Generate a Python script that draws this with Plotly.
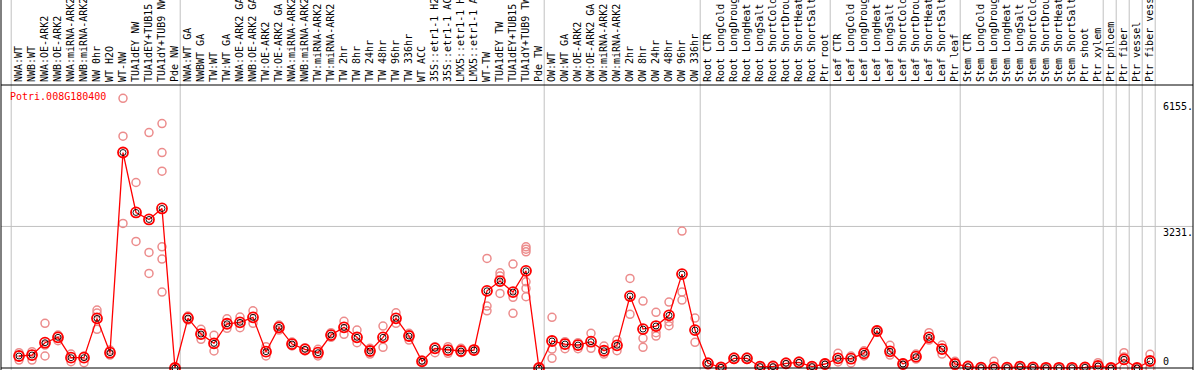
import plotly.graph_objects as go

categories = [
    "NWA:WT", "NWB:WT", "NWA:OE-ARK2", "NWB:OE-ARK2", "NWA:miRNA-ARK2", "NWB:miRNA-ARK2",
    "NW 0hr", "WT H2O", "WT-NW", "TUA1dEY NW", "TUA1dEY+TUB15 NW", "TUA1dY+TUB9 NW", "Pde NW",
    "NWA:WT GA", "NWBWT GA", "TW:WT", "TW:WT GA", "NWA:OE-ARK2 GA", "NWB:OE-ARK2 GA",
    "TW:OE-ARK2", "TW:OE-ARK2 GA", "NWA:miRNA-ARK2 GA", "NWB:miRNA-ARK2 GA", "TW:miRNA-ARK2",
    "TW:miRNA-ARK2 GA", "TW 2hr", "TW 8hr", "TW 24hr", "TW 48hr", "TW 96hr", "TW 336hr",
    "WT ACC", "35S::etr1-1 H2O", "35S::etr1-1 ACC", "LMX5::etr1-1 H2O", "LMX5::etr1-1 ACC",
    "WT-TW", "TUA1dEY TW", "TUA1dEY+TUB15 TW", "TUA1dY+TUB9 TW", "Pde TW",
    "OW:WT", "OW:WT GA", "OW:OE-ARK2", "OW:OE-ARK2 GA", "OW:miRNA-ARK2", "OW:miRNA-ARK2 GA",
    "OW 2hr", "OW 8hr", "OW 24hr", "OW 48hr", "OW 96hr", "OW 336hr",
    "Root CTR", "Root LongCold", "Root LongDrought", "Root LongHeat", "Root LongSalt",
    "Root ShortCold", "Root ShortDrought", "Root ShortHeat", "Root ShortSalt", "Ptr root",
    "Leaf CTR", "Leaf LongCold", "Leaf LongDrought", "Leaf LongHeat", "Leaf LongSalt",
    "Leaf ShortCold", "Leaf ShortDrought", "Leaf ShortHeat", "Leaf ShortSalt", "Ptr leaf",
    "Stem CTR", "Stem LongCold", "Stem LongDrought", "Stem LongHeat", "Stem LongSalt",
    "Stem ShortCold", "Stem ShortDrought", "Stem ShortHeat", "Stem ShortSalt",
    "Ptr shoot", "Ptr xylem", "Ptr phloem", "Ptr fiber", "Ptr vessel", "Ptr fiber vessel",
]

mean_values = [
    274, 296, 577, 700, 235, 235, 1133, 349, 4918, 3550, 3390, 3641, 0,
    1140, 775, 563, 1010, 1042, 1156, 372, 928, 547, 426, 349, 752, 928, 700, 388, 700, 1133,
    730, 153, 449, 410, 388, 410, 1762, 1984, 1733, 2218, 0,
    616, 547, 524, 600, 394, 518, 1642, 889, 958, 1202, 2143, 866,
    107, 16, 221, 221, 30, 30, 107, 130, 30, 91,
    221, 212, 335, 844, 381, 91, 258, 700, 433, 91,
    30, 8, 16, 8, 30, 16, 5, 5, 5, 16, 46,
    0, 198, 0, 160,
]

replicate_values = [
    [349, 182], [372, 182], [1019, 524, 274], [752, 622], [319, 144], [274, 121],
    [1322, 1254, 882], [410, 296], [6155, 5290, 3299], [4234, 2889], [5374, 2638, 2159],
    [5579, 4918, 4492, 2766, 2485, 1733], [0],
    [1186, 1094], [882, 654], [746, 388], [1124, 905], [1163, 919], [1306, 1019], [486, 274],
    [980, 866], [593, 502], [463, 388], [426, 274], [805, 700], [1065, 768], [866, 577],
    [449, 319], [958, 472], [1261, 1019], [791, 638], [182, 137], [486, 349], [486, 335],
    [449, 349], [433, 388], [2501, 1414, 1306], [2173, 2098, 1703], [2371, 1612, 1247],
    [2766, 2713, 2652, 1968, 1817, 1626], [0],
    [1156, 433, 221], [600, 440], [577, 440], [791, 449], [502, 319], [638, 394],
    [2045, 1224], [1528, 677, 472], [1270, 805, 730], [1505, 1056, 964], [3124, 1733, 1550],
    [1140, 586],
    [137, 68], [30, 5], [251, 194], [251, 194], [46, 16], [68, 5], [137, 80], [160, 100],
    [46, 16], [114, 68],
    [335, 137], [274, 114], [394, 274], [866, 821], [518, 296], [114, 68], [319, 205],
    [805, 638], [524, 319], [153, 46],
    [68, 5], [16, 0], [153, 0], [16, 0], [46, 16], [30, 5], [16, 0], [16, 0], [16, 0],
    [30, 5], [121, 23],
    [0, 0], [349, 251, 0], [0, 0], [312, 0],
]

group_edges = [0, 13, 41, 53, 63, 73, 84, 85, 86, 87, 88]
y_ticks = [6155, 3231, 0]
y_tick_text = ["6155.", "3231.", "0"]
gene_name = "Potri.008G180400"

FONT = "DejaVu Sans Mono"
W, H = 1194, 370
ML, MR, MT, MB = 1, 1, 85, 2
plot_h = H - MT - MB
x_pos = list(range(1, len(categories) + 1))
y_max = 6459

rep_x, rep_y = [], []
for xi, reps in zip(x_pos, replicate_values):
    for r in reps:
        rep_x.append(xi)
        rep_y.append(r)

fig = go.Figure()
fig.add_trace(go.Scatter(
    x=rep_x, y=rep_y, mode="markers", hoverinfo="skip",
    marker=dict(symbol="circle-open", size=8, color="rgb(236,140,140)", line=dict(width=1.5)),
    cliponaxis=False,
))
fig.add_trace(go.Scatter(
    x=x_pos, y=mean_values, mode="lines",
    line=dict(color="#ff0000", width=1.3), cliponaxis=False,
))
fig.add_trace(go.Scatter(
    x=x_pos, y=mean_values, mode="markers",
    marker=dict(symbol="circle-open", size=10, color="#ff0000", line=dict(width=1.8)),
    cliponaxis=False,
))
fig.add_trace(go.Scatter(
    x=x_pos, y=mean_values, mode="markers",
    marker=dict(symbol="circle-open", size=6, color="#000000", line=dict(width=0.9)),
    cliponaxis=False,
))

shapes = []
top_ext = 1 + MT / plot_h + 0.01
for e in group_edges:
    shapes.append(dict(type="line", xref="x", yref="paper", x0=e + 0.4, x1=e + 0.4,
                       y0=-MB / plot_h, y1=top_ext, line=dict(color="#c0c0c0", width=1),
                       layer="below"))
shapes.append(dict(type="line", xref="paper", yref="y", x0=0, x1=1, y0=y_ticks[1], y1=y_ticks[1],
                   line=dict(color="#c0c0c0", width=1), layer="below"))
shapes.append(dict(type="line", xref="paper", yref="paper", x0=0, x1=1, y0=1, y1=1,
                   line=dict(color="#000000", width=1)))
shapes.append(dict(type="line", xref="paper", yref="paper", x0=0, x1=1, y0=0, y1=0,
                   line=dict(color="#000000", width=1)))
for xp in (0, 1):
    shapes.append(dict(type="line", xref="paper", yref="paper", x0=xp, x1=xp,
                       y0=-MB / plot_h, y1=top_ext, line=dict(color="#000000", width=1)))

annotations = [dict(
    text=gene_name, xref="paper", yref="paper", x=(7.5 - ML) / (W - ML - MR),
    y=1 - (96.7 - MT) / plot_h, xanchor="left", yanchor="middle", showarrow=False,
    font=dict(family=FONT, size=10, color="#ff0000"),
)]
shifts = [-8.5, -6, 6.5]
for v, t, s in zip(y_ticks, y_tick_text, shifts):
    annotations.append(dict(
        text=t, xref="x", yref="y", x=(1161 - 6) / 13, y=v, xanchor="left", yanchor="middle",
        yshift=s, showarrow=False, font=dict(family=FONT, size=10, color="#000000"),
    ))

fig.update_layout(
    template="none",
    width=W, height=H, margin=dict(l=ML, r=MR, t=MT, b=MB, pad=0, autoexpand=False),
    paper_bgcolor="white", plot_bgcolor="white", showlegend=False,
    shapes=shapes, annotations=annotations,
    xaxis=dict(
        side="top", range=[(1 - 6) / 13, (1193 - 6) / 13], tickmode="array",
        tickvals=x_pos, ticktext=categories, tickangle=-90, ticks="",
        tickfont=dict(family=FONT, size=10, color="#000000"), automargin=False,
        ticklabelstandoff=2,
        showgrid=False, zeroline=False, showline=False, fixedrange=True,
    ),
    yaxis=dict(
        range=[0, y_max], showticklabels=False, showgrid=False, zeroline=False,
        showline=False, ticks="", fixedrange=True, automargin=False,
    ),
)

fig.write_html(
    "out.html",
    config={"displayModeBar": False},
    post_script="document.body.style.margin='0';document.body.style.overflow='hidden';",
)
